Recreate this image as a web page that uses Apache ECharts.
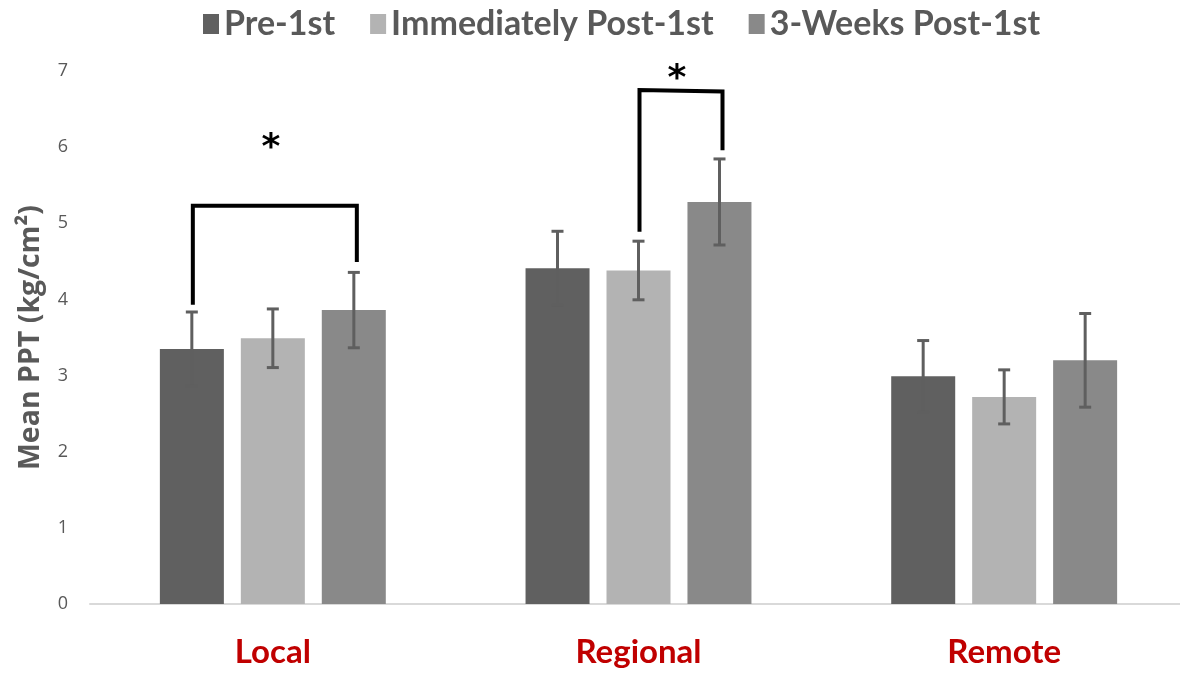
<!DOCTYPE html>
<html>
<head>
<meta charset="utf-8">
<script src="https://cdn.jsdelivr.net/npm/echarts@6/dist/echarts.min.js"></script>
<style>html,body{margin:0;padding:0;background:#fff}#c{width:1180px;height:673px}</style>
</head>
<body>
<div id="c"></div>
<script>
var categories = ['Local', 'Regional', 'Remote'];
var seriesNames = ['Pre-1st', 'Immediately Post-1st', '3-Weeks Post-1st'];
var preVals = [3.35, 4.41, 2.99];
var immVals = [3.49, 4.38, 2.72];
var wk3Vals = [3.86, 5.28, 3.20];
var preErr = [0.485, 0.485, 0.47];
var immErr = [0.385, 0.385, 0.355];
var wk3Err = [0.495, 0.565, 0.615];
var yTicks = [0, 1, 2, 3, 4, 5, 6, 7];
// brackets: [category, fromBar, toBar, leftBottom, leftTop, rightTop, rightBottom, starY]
var brackets = [
  [0, 0, 2, 3.93, 5.23, 5.23, 4.49, 6.09],
  [1, 1, 2, 4.89, 6.75, 6.73, 5.96, 6.99]
];

var colors = ['#606060', '#b3b3b3', '#898989'];
var BAR_W = 64, BAR_STEP = 81;
var values = [preVals, immVals, wk3Vals];
var errs = [preErr, immErr, wk3Err];

var errData = [];
for (var s = 0; s < 3; s++) {
  for (var i = 0; i < categories.length; i++) {
    errData.push([i, s, values[s][i] - errs[s][i], values[s][i] + errs[s][i]]);
  }
}

var chart = echarts.init(document.getElementById('c'), null, {renderer: 'canvas'});
var barSeries = seriesNames.map(function (n, k) {
  return {
    name: n, type: 'bar', data: values[k], barWidth: BAR_W, barGap: '26.5%',
    itemStyle: {color: colors[k]}
  };
});
chart.setOption({
  animation: false,
  legend: {
    data: seriesNames, top: 2, left: 198, icon: 'rect', itemWidth: 16, itemHeight: 20, itemGap: 35,
    textStyle: {color: '#595959', fontSize: 34, fontWeight: 'bold', fontFamily: 'Lato'}
  },
  grid: {left: 90, width: 1097, top: 71, bottom: 69, outerBoundsMode: 'none', containLabel: false},
  xAxis: {
    type: 'category', data: categories,
    axisLine: {lineStyle: {color: '#d9d9d9', width: 2}},
    axisTick: {show: false},
    axisLabel: {color: '#c00000', fontSize: 33, fontWeight: 'bold', fontFamily: 'Lato', margin: 32}
  },
  yAxis: {
    type: 'value', min: yTicks[0], max: yTicks[yTicks.length - 1], interval: 1,
    splitLine: {show: false}, axisLine: {show: false}, axisTick: {show: false},
    axisLabel: {color: '#595959', fontSize: 18, fontFamily: 'Open Sans', margin: 22},
    name: 'Mean PPT (kg/cm²)', nameLocation: 'middle', nameGap: 45, nameRotate: 90,
    nameTextStyle: {color: '#595959', fontSize: 28.5, fontWeight: 'bold', fontFamily: 'Open Sans'}
  },
  series: barSeries.concat([
    {
      type: 'custom', z: 10, data: errData, silent: true,
      renderItem: function (params, api) {
        var cat = api.value(0), s = api.value(1);
        var off = (s - 1) * BAR_STEP;
        var lo = api.coord([cat, api.value(2)]);
        var hi = api.coord([cat, api.value(3)]);
        var x = lo[0] + off;
        var st = {stroke: '#5f5f5f', lineWidth: 3};
        return {type: 'group', children: [
          {type: 'line', shape: {x1: x, y1: lo[1], x2: x, y2: hi[1]}, style: st},
          {type: 'line', shape: {x1: x - 6, y1: lo[1], x2: x + 6, y2: lo[1]}, style: st},
          {type: 'line', shape: {x1: x - 6, y1: hi[1], x2: x + 6, y2: hi[1]}, style: st}
        ]};
      }
    },
    {
      type: 'custom', z: 11, data: brackets, silent: true,
      renderItem: function (params, api) {
        var cat = api.value(0);
        var xl = api.coord([cat, 0])[0] + (api.value(1) - 1) * BAR_STEP + 1;
        var xr = api.coord([cat, 0])[0] + (api.value(2) - 1) * BAR_STEP + 3;
        var p1 = [xl, api.coord([cat, api.value(3)])[1]];
        var p2 = [xl, api.coord([cat, api.value(4)])[1]];
        var p3 = [xr, api.coord([cat, api.value(5)])[1]];
        var p4 = [xr, api.coord([cat, api.value(6)])[1]];
        var sy = api.coord([cat, api.value(7)])[1];
        return {type: 'group', children: [
          {type: 'polyline', shape: {points: [p1, p2, p3, p4]}, style: {stroke: '#000', lineWidth: 4, fill: null}},
          {type: 'text', style: {x: (xl + xr) / 2 - 4, y: sy + 8, text: '*', fill: '#000', fontSize: 36, fontWeight: 'bold', fontFamily: 'DejaVu Sans', align: 'center', verticalAlign: 'middle'}}
        ]};
      }
    }
  ])
});
</script>
</body>
</html>
